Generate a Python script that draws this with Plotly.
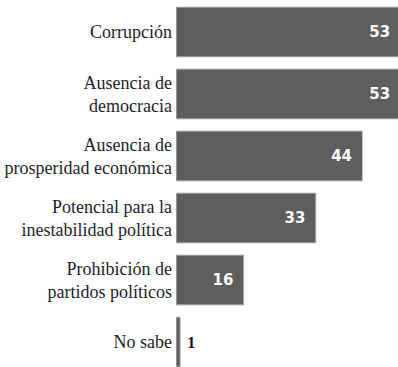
import plotly.graph_objects as go

categories = [
    "Corrupción",
    "Ausencia de<br>democracia",
    "Ausencia de<br>prosperidad económica",
    "Potencial para la<br>inestabilidad política",
    "Prohibición de<br>partidos políticos",
    "No sabe",
]
values = [53, 53, 44, 33, 16, 1]

bar_color = "#5e5e5e"

inside = [v >= 5 for v in values]
labels = [f"<b>{v}</b>\u2002" if i else f"\u00a0<b>{v}</b>" for v, i in zip(values, inside)]

fig = go.Figure()
fig.add_trace(go.Bar(
    x=values,
    y=categories,
    orientation="h",
    width=0.806,
    marker=dict(color=bar_color, line=dict(color="#c8c8c8", width=1)),
    text=labels,
    textposition=["inside" if i else "outside" for i in inside],
    insidetextanchor="end",
    textangle=0,
    insidetextfont=dict(family="DejaVu Sans", size=15, color="white"),
    outsidetextfont=dict(family="Liberation Serif", size=16, color="#111111"),
    hoverinfo="skip",
))

fig.update_layout(
    width=398, height=367,
    margin=dict(l=176, r=0, t=0, b=0),
    paper_bgcolor="white", plot_bgcolor="white",
    showlegend=False,
    xaxis=dict(visible=False, range=[0, 52.36], fixedrange=True),
    yaxis=dict(
        type="category", categoryorder="array", categoryarray=categories,
        range=[5.403, -0.516], showgrid=False, showline=False, zeroline=False,
        ticks="", automargin=False, ticklabelstandoff=3,
        tickfont=dict(family="Liberation Serif", size=18, color="#1e1e2a"),
    ),
)

fig.write_html("out.html")
